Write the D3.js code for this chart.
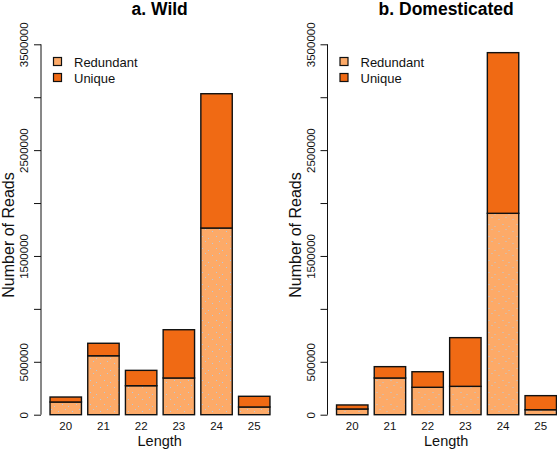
<!DOCTYPE html>
<html>
<head>
<meta charset="utf-8">
<script src="https://cdn.jsdelivr.net/npm/d3@7/dist/d3.min.js"></script>
<style>
  html, body { margin: 0; padding: 0; background: #fff; }
  svg { display: block; font-family: "Liberation Sans", Arial, Helvetica, sans-serif; }
</style>
</head>
<body>
<svg id="chart" width="557" height="452"></svg>
<script>
// ---- data ----
const lengths = ["20", "21", "22", "23", "24", "25"];
const wildRedundant = [120000, 557000, 274000, 347000, 1764000, 73000];
const wildUnique    = [47000, 118000, 145000, 456000, 1269000, 101000];
const domRedundant  = [54000, 347000, 259000, 268000, 1903000, 47000];
const domUnique     = [38000, 107000, 147000, 460000, 1518000, 133000];
const seriesNames = ["Redundant", "Unique"];
const seriesColors = ["#FDAA68", "#F06A14"];
const yTicks = [0, 500000, 1000000, 1500000, 2000000, 2500000, 3000000, 3500000];
const yTickLabels = ["0", "500000", "", "1500000", "", "2500000", "", "3500000"];
const titles = [["a.", "Wild"], ["b.", "Domesticated"]];

const panels = [
  { red: wildRedundant, uni: wildUnique, title: titles[0], dx: 0 },
  { red: domRedundant,  uni: domUnique,  title: titles[1], dx: 286.5 }
];

const svg = d3.select("#chart");

// subtle dotted texture similar to the reference
const defs = svg.append("defs");
const pat = defs.append("pattern").attr("id", "dots").attr("patternUnits", "userSpaceOnUse")
  .attr("width", 14).attr("height", 12);
pat.append("rect").attr("width", 14).attr("height", 12).attr("fill", seriesColors[0]);
[[2,3],[9,1],[6,8],[12,10]].forEach(p => pat.append("rect").attr("x", p[0]).attr("y", p[1])
  .attr("width", 1).attr("height", 1).attr("fill", "#b9c9dc"));

const y = d3.scaleLinear().domain([0, 3500000]).range([414.7, 44.3]);

panels.forEach(p => {
  const g = svg.append("g").attr("transform", `translate(${p.dx},0)`);
  const axisX = 41;
  const x = d3.scaleBand().domain(lengths).range([46.9, 273.1])
    .paddingInner(1/6).paddingOuter(1/12);

  // stacked data
  const rows = lengths.map((l, i) => ({ len: l, Redundant: p.red[i], Unique: p.uni[i] }));
  const stack = d3.stack().keys(seriesNames)(rows);

  stack.forEach((layer, k) => {
    g.append("g").selectAll("rect").data(layer).join("rect")
      .attr("x", d => x(d.data.len))
      .attr("width", x.bandwidth())
      .attr("y", d => y(d[1]))
      .attr("height", d => y(d[0]) - y(d[1]))
      .attr("fill", k === 0 ? "url(#dots)" : seriesColors[1])
      .attr("stroke", "#111")
      .attr("stroke-width", 1.4);
  });

  // y axis
  const yAxis = d3.axisLeft(y).tickValues(yTicks).tickSize(7).tickPadding(3)
    .tickFormat((d, i) => yTickLabels[i]);
  const ya = g.append("g").attr("transform", `translate(${axisX},0)`).call(yAxis);
  ya.select(".domain").attr("d", `M-0,${y(0)}V${y(3500000)}`).attr("stroke", "#111");
  ya.selectAll(".tick line").attr("stroke", "#111");
  ya.selectAll(".tick text")
    .attr("transform", "rotate(-90)")
    .attr("x", 0).attr("y", -13)
    .attr("dy", 0)
    .attr("text-anchor", "middle")
    .attr("font-size", 11.5).attr("fill", "#111");

  // x tick labels
  g.append("g").selectAll("text").data(lengths).join("text")
    .attr("x", d => x(d) + x.bandwidth() / 2)
    .attr("y", 430)
    .attr("text-anchor", "middle")
    .attr("font-size", 11.5).attr("fill", "#111")
    .text(d => d);

  // x axis title
  g.append("text").attr("x", 159.7).attr("y", 446).attr("text-anchor", "middle")
    .attr("font-size", 14.5).attr("fill", "#111").text("Length");

  // y axis title
  g.append("text").attr("transform", `translate(14,235) rotate(-90)`)
    .attr("text-anchor", "middle").attr("font-size", 16).attr("fill", "#111")
    .text("Number of Reads");

  // title
  g.append("text").attr("x", 159.7).attr("y", 15).attr("text-anchor", "middle")
    .attr("font-size", 17.5).attr("font-weight", "bold").attr("fill", "#000")
    .text(p.title.join(" "));

  // legend
  const lg = g.append("g");
  seriesNames.forEach((s, i) => {
    lg.append("rect").attr("x", 53.5).attr("y", 57.5 + i * 16).attr("width", 8).attr("height", 8)
      .attr("fill", seriesColors[i]).attr("stroke", "#111").attr("stroke-width", 1.2);
    lg.append("text").attr("x", 74).attr("y", 66.5 + i * 16).attr("font-size", 13)
      .attr("fill", "#111").text(s);
  });
});
</script>
</body>
</html>
